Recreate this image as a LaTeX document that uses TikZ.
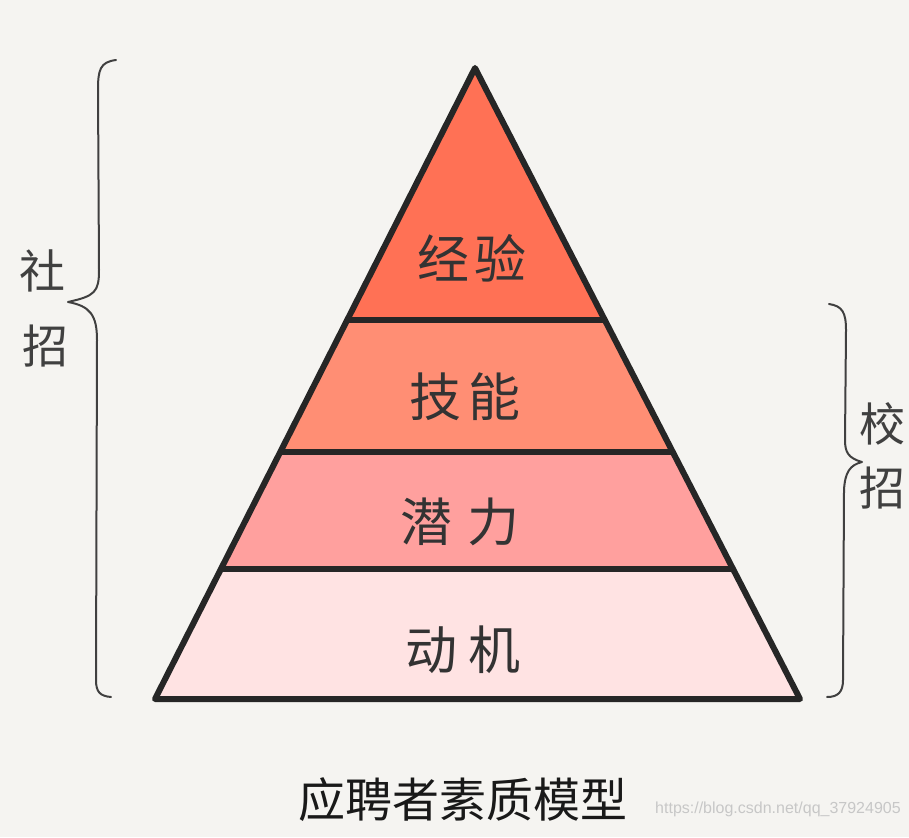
\documentclass[tikz,border=0pt]{standalone}
\usepackage{fontspec}
\usetikzlibrary{calc}
\newfontfamily\cjk{Noto Sans CJK SC}[FakeStretch=1.0]
\setmainfont{Liberation Sans}
\begin{document}
\begin{tikzpicture}[x=1pt,y=-1pt,
  layer/.style={line width=6pt, draw=black!85, line join=round},
  lbl/.style={font=\cjk\fontsize{52}{56}\selectfont, text=black!80, inner sep=0pt},
  side/.style={font=\cjk\fontsize{46}{50}\selectfont, text=black!75, inner sep=0pt},
  brace/.style={line width=2pt, draw=black!75, line cap=round, line join=round}]
\definecolor{bg}{HTML}{F5F4F1}
\definecolor{c1}{HTML}{FF7155}
\definecolor{c2}{HTML}{FF8E74}
\definecolor{c3}{HTML}{FFA09E}
\definecolor{c4}{HTML}{FFE3E3}
\fill[bg] (0,0) rectangle (909,837);
\useasboundingbox (0,0) rectangle (909,837);
% pyramid corners
\coordinate (apex) at (475,68);
\coordinate (bl) at (155,699);
\coordinate (br) at (800,699);
\coordinate (l1) at ($(apex)!0.3994!(bl)$);
\coordinate (r1) at ($(apex)!0.3994!(br)$);
\coordinate (l2) at ($(apex)!0.6086!(bl)$);
\coordinate (r2) at ($(apex)!0.6086!(br)$);
\coordinate (l3) at ($(apex)!0.7940!(bl)$);
\coordinate (r3) at ($(apex)!0.7940!(br)$);
\fill[c1] (apex) -- (r1) -- (l1) -- cycle;
\fill[c2] (l1) -- (r1) -- (r2) -- (l2) -- cycle;
\fill[c3] (l2) -- (r2) -- (r3) -- (l3) -- cycle;
\fill[c4] (l3) -- (r3) -- (br) -- (bl) -- cycle;
\draw[layer] (l1) -- (r1);
\draw[layer] (l2) -- (r2);
\draw[layer] (l3) -- (r3);
\draw[layer] (apex) -- (br) -- (bl) -- cycle;
% labels
\node[lbl] (t1) at (472,258) {经\hspace{0.08em}验};
\node[lbl] (t2) at (465,397) {技\hspace{0.12em}能};
\node[lbl] (t3) at (460,522) {潜\hspace{0.3em}力};
\node[lbl] (t4) at (463,650) {动\hspace{0.2em}机};
% left brace
\draw[brace] (116,60) .. controls (100,62) and (98,70) .. (98,90)
  -- (99,270) .. controls (99,292) and (95,296) .. (68,302)
  .. controls (90,306) and (97,315) .. (97,340)
  -- (96,680) .. controls (96,692) and (100,696) .. (111,697);
\node[side] (s1) at (42,271) {社};
\node[side] (s2) at (45,346) {招};
% right brace
\draw[brace] (829,304) .. controls (842,306) and (846,312) .. (846,330)
  -- (845,440) .. controls (845,452) and (848,458) .. (862,462)
  .. controls (850,465) and (845,472) .. (844,490)
  -- (843,680) .. controls (843,692) and (838,697) .. (827,697);
\node[side] (s3) at (882,424) {校};
\node[side] (s4) at (882,488) {招};
% title
\node[font=\cjk\fontsize{47}{50}\selectfont, text=black!90, inner sep=0pt] (title) at (463,800) {应聘者素质模型};
\node[font=\fontsize{16}{18}\selectfont, text=black!22, inner sep=0pt, anchor=west] (wm) at (655,809) {https://blog.csdn.net/qq\_37924905};
\end{tikzpicture}
\end{document}
